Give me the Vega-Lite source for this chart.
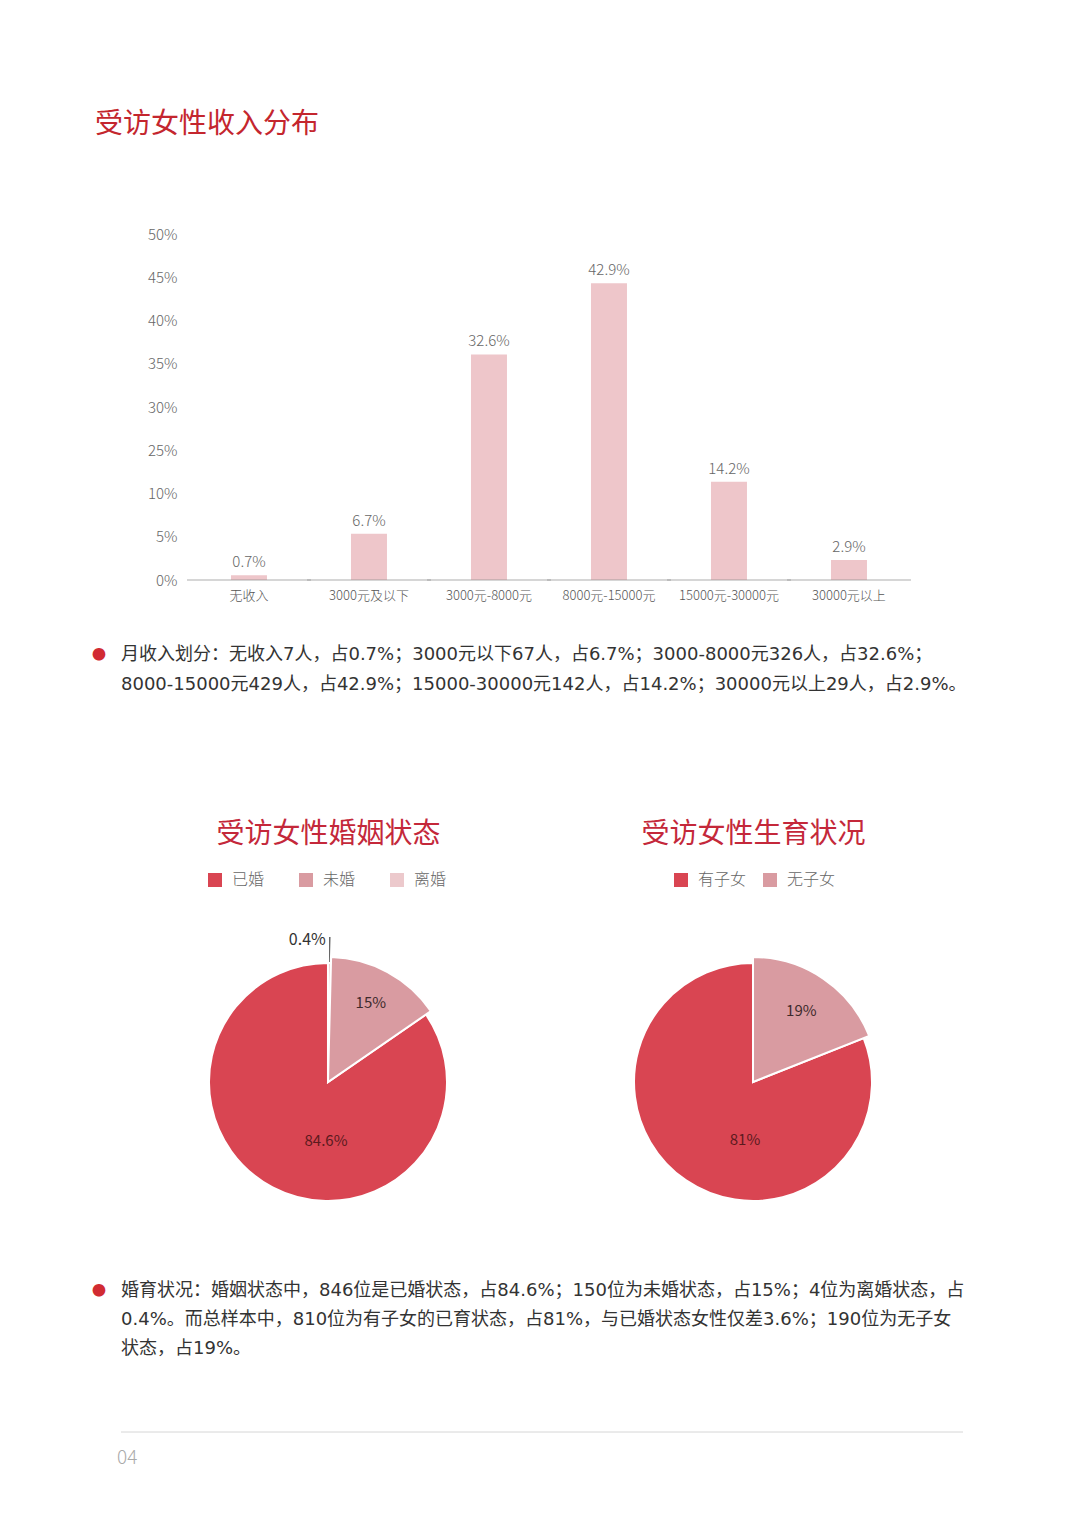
{
  "$schema": "https://vega.github.io/schema/vega-lite/v6.json",
  "background": "#ffffff",
  "padding": {"left": 92, "top": 111, "right": 20, "bottom": 20},
  "spacing": 0,
  "config": {
    "view": {"stroke": null},
    "font": "Noto Sans CJK SC",
    "text": {"font": "Noto Sans CJK SC"},
    "axis": {"labelFont": "Noto Sans CJK SC"},
    "legend": {"labelFont": "Noto Sans CJK SC"},
    "title": {"font": "Noto Sans CJK SC", "fontWeight": "normal"}
  },
  "vconcat": [
    {
      "width": 813,
      "height": 346,
      "title": {"text": "受访女性收入分布", "anchor": "start", "frame": "group", "dx": -26, "offset": 88, "fontSize": 28, "fontWeight": "normal", "color": "#C4262E"},
      "data": {"values": [
        {"income": "无收入", "share": 0.007},
        {"income": "3000元及以下", "share": 0.067},
        {"income": "3000元-8000元", "share": 0.326},
        {"income": "8000元-15000元", "share": 0.429},
        {"income": "15000元-30000元", "share": 0.142},
        {"income": "30000元以上", "share": 0.029}
      ]},
      "encoding": {
        "x": {"field": "income", "type": "nominal", "sort": null,
              "scale": {"paddingInner": 0, "paddingOuter": 0.3875, "align": 0.731},
              "axis": {"title": null, "domain": false, "ticks": false, "labelAngle": 0, "labelFontSize": 13, "labelColor": "#555555", "labelPadding": 9, "labelFontWeight": 300}},
        "y": {"field": "share", "type": "quantitative",
              "scale": {"domain": [0, 0.5]},
              "axis": {"values": [0, 0.0625, 0.125, 0.1875, 0.25, 0.3125, 0.375, 0.4375, 0.5],
                       "labelExpr": "['0%','5%','10%','25%','30%','35%','40%','45%','50%'][round(datum.value*16)]",
                       "title": null, "domain": false, "ticks": false, "grid": false, "offset": -64,
                       "labelPadding": 8, "labelFontSize": 15, "labelColor": "#666666", "labelFontWeight": 300}}
      },
      "layer": [
        {"mark": {"type": "bar", "width": {"band": 0.3}, "color": "#EEC6CA"}},
        {"mark": {"type": "tick", "size": 124, "thickness": 1, "color": "#8C8C8C"}, "encoding": {"y": {"datum": 0, "type": "quantitative"}}},
        {"mark": {"type": "text", "dy": -13, "fontSize": 15, "fontWeight": 300, "color": "#666666"},
         "encoding": {"text": {"field": "share", "type": "quantitative", "format": ".1~%"}}}
      ]
    },
    {"width": 842, "height": 38, "data": {"values": []}, "mark": "point", "encoding": {}},
    {
      "width": 842,
      "height": 60,
      "data": {"values": [
        {"line": 1, "text": "月收入划分：无收入7人，占0.7%；3000元以下67人，占6.7%；3000-8000元326人，占32.6%；"},
        {"line": 2, "text": "8000-15000元429人，占42.9%；15000-30000元142人，占14.2%；30000元以上29人，占2.9%。"}
      ]},
      "encoding": {
        "y": {"field": "line", "type": "ordinal", "axis": null, "scale": {"type": "band", "paddingInner": 0, "paddingOuter": 0}},
        "x": {"datum": 0, "type": "quantitative", "scale": {"domain": [0, 1]}, "axis": null}
      },
      "layer": [
        {"mark": {"type": "text", "align": "left", "baseline": "middle", "font": "DejaVu Sans, Noto Sans CJK SC", "fontSize": 18, "color": "#333333"}, "encoding": {"text": {"field": "text"}}},
        {"transform": [{"filter": "datum.line == 1"}], "mark": {"type": "text", "align": "center", "baseline": "middle", "fontSize": 14, "dx": -22, "color": "#D12B32", "text": "●"}}
      ]
    },
    {"width": 842, "height": 120, "data": {"values": []}, "mark": "point", "encoding": {}},
    {
      "width": 839,
      "height": 240,
      "data": {"values": [
        {"chart": "受访女性婚姻状态", "status": "已婚", "share": 0.846},
        {"chart": "受访女性婚姻状态", "status": "未婚", "share": 0.15},
        {"chart": "受访女性婚姻状态", "status": "离婚", "share": 0.004},
        {"chart": "受访女性生育状况", "status": "有子女", "share": 0.81},
        {"chart": "受访女性生育状况", "status": "无子女", "share": 0.19}
      ]},
      "encoding": {
        "x": {"field": "chart", "type": "nominal", "sort": null,
              "scale": {"type": "point", "padding": 0.487},
              "axis": {"orient": "top", "title": null, "domain": false, "ticks": false, "labelAngle": 0, "labelFontSize": 28, "labelColor": "#C4283A", "labelPadding": 128, "labelBaseline": "middle", "labelLimit": 0}},
        "theta": {"field": "share", "type": "quantitative", "stack": true, "scale": {"domain": [0, 1]}},
        "order": {"field": "share", "sort": "ascending"}
      },
      "layer": [
        {"transform": [{"filter": "datum.chart == '受访女性婚姻状态'"}],
         "mark": {"type": "arc", "outerRadius": 119, "stroke": "#ffffff", "strokeWidth": 2},
         "encoding": {
           "color": {"field": "status", "type": "nominal", "scale": {"domain": ["已婚", "未婚", "离婚"], "range": ["#D94552", "#D99BA1", "#ECC9CC"]},
                     "legend": {"title": null, "orient": "none", "legendX": 86, "legendY": 638, "direction": "horizontal", "symbolType": "square", "symbolSize": 196, "symbolStrokeWidth": 0, "labelFontSize": 16, "labelColor": "#666666", "labelFontWeight": 300, "labelOffset": 9, "columnPadding": 33}},
           "opacity": {"condition": {"test": "datum.status == '未婚'", "value": 0}, "value": 1}
         }},
        {"transform": [{"filter": "datum.chart == '受访女性婚姻状态'"}],
         "mark": {"type": "arc", "outerRadius": 125, "stroke": "#ffffff", "strokeWidth": 2},
         "encoding": {
           "color": {"field": "status", "type": "nominal", "scale": {"domain": ["已婚", "未婚", "离婚"], "range": ["#D94552", "#D99BA1", "#ECC9CC"]},
                     "legend": {"title": null, "orient": "none", "legendX": 86, "legendY": 638, "direction": "horizontal", "symbolType": "square", "symbolSize": 196, "symbolStrokeWidth": 0, "labelFontSize": 16, "labelColor": "#666666", "labelFontWeight": 300, "labelOffset": 9, "columnPadding": 33}},
           "opacity": {"condition": {"test": "datum.status == '未婚'", "value": 1}, "value": 0}
         }},
        {"transform": [{"filter": "datum.chart == '受访女性婚姻状态'"}],
         "mark": {"type": "arc", "innerRadius": 120, "outerRadius": 145, "padAngle": 0.012, "color": "#555555"},
         "encoding": {
           "detail": {"field": "status"},
           "opacity": {"condition": {"test": "datum.status == '离婚'", "value": 1}, "value": 0}
         }},
        {"transform": [{"filter": "datum.chart == '受访女性婚姻状态'"}],
         "mark": {"type": "text", "radius": 59, "thetaOffset": -0.45, "fontSize": 15, "color": "#5C1A1E"},
         "encoding": {
           "detail": {"field": "status"},
           "text": {"field": "share", "type": "quantitative", "format": ".1~%"},
           "opacity": {"condition": {"test": "datum.status == '已婚'", "value": 1}, "value": 0}
         }},
        {"transform": [{"filter": "datum.chart == '受访女性婚姻状态'"}],
         "mark": {"type": "text", "radius": 90, "fontSize": 15, "color": "#3E2A2C"},
         "encoding": {
           "detail": {"field": "status"},
           "text": {"field": "share", "type": "quantitative", "format": ".1~%"},
           "opacity": {"condition": {"test": "datum.status == '未婚'", "value": 1}, "value": 0}
         }},
        {"transform": [{"filter": "datum.chart == '受访女性婚姻状态'"}],
         "mark": {"type": "text", "radius": 142, "align": "right", "baseline": "middle", "dx": -4, "fontSize": 16, "color": "#333333"},
         "encoding": {
           "detail": {"field": "status"},
           "text": {"field": "share", "type": "quantitative", "format": ".1~%"},
           "opacity": {"condition": {"test": "datum.status == '离婚'", "value": 1}, "value": 0}
         }},
        {"transform": [{"filter": "datum.chart == '受访女性生育状况'"}],
         "mark": {"type": "arc", "outerRadius": 119, "stroke": "#ffffff", "strokeWidth": 2},
         "encoding": {
           "fill": {"field": "status", "type": "nominal", "scale": {"domain": ["有子女", "无子女"], "range": ["#D94552", "#D99BA1"]},
                    "legend": {"title": null, "orient": "none", "legendX": 552, "legendY": 638, "direction": "horizontal", "symbolType": "square", "symbolSize": 196, "symbolStrokeWidth": 0, "labelFontSize": 16, "labelColor": "#666666", "labelFontWeight": 300, "labelOffset": 9, "columnPadding": 15}},
           "opacity": {"condition": {"test": "datum.status == '无子女'", "value": 0}, "value": 1}
         }},
        {"transform": [{"filter": "datum.chart == '受访女性生育状况'"}],
         "mark": {"type": "arc", "outerRadius": 125, "stroke": "#ffffff", "strokeWidth": 2},
         "encoding": {
           "fill": {"field": "status", "type": "nominal", "scale": {"domain": ["有子女", "无子女"], "range": ["#D94552", "#D99BA1"]},
                    "legend": {"title": null, "orient": "none", "legendX": 552, "legendY": 638, "direction": "horizontal", "symbolType": "square", "symbolSize": 196, "symbolStrokeWidth": 0, "labelFontSize": 16, "labelColor": "#666666", "labelFontWeight": 300, "labelOffset": 9, "columnPadding": 15}},
           "opacity": {"condition": {"test": "datum.status == '无子女'", "value": 1}, "value": 0}
         }},
        {"transform": [{"filter": "datum.chart == '受访女性生育状况'"}],
         "mark": {"type": "text", "radius": 59, "thetaOffset": -0.46, "fontSize": 15, "color": "#5C1A1E"},
         "encoding": {
           "detail": {"field": "status"},
           "text": {"field": "share", "type": "quantitative", "format": ".1~%"},
           "opacity": {"condition": {"test": "datum.status == '有子女'", "value": 1}, "value": 0}
         }},
        {"transform": [{"filter": "datum.chart == '受访女性生育状况'"}],
         "mark": {"type": "text", "radius": 86, "fontSize": 15, "color": "#3E2A2C"},
         "encoding": {
           "detail": {"field": "status"},
           "text": {"field": "share", "type": "quantitative", "format": ".1~%"},
           "opacity": {"condition": {"test": "datum.status == '无子女'", "value": 1}, "value": 0}
         }}
      ]
    },
    {"width": 842, "height": 50, "data": {"values": []}, "mark": "point", "encoding": {}},
    {
      "width": 842,
      "height": 86,
      "data": {"values": [
        {"line": 1, "text": "婚育状况：婚姻状态中，846位是已婚状态，占84.6%；150位为未婚状态，占15%；4位为离婚状态，占"},
        {"line": 2, "text": "0.4%。而总样本中，810位为有子女的已育状态，占81%，与已婚状态女性仅差3.6%；190位为无子女"},
        {"line": 3, "text": "状态，占19%。"}
      ]},
      "encoding": {
        "y": {"field": "line", "type": "ordinal", "axis": null, "scale": {"type": "band", "paddingInner": 0, "paddingOuter": 0}},
        "x": {"datum": 0, "type": "quantitative", "scale": {"domain": [0, 1]}, "axis": null}
      },
      "layer": [
        {"mark": {"type": "text", "align": "left", "baseline": "middle", "font": "DejaVu Sans, Noto Sans CJK SC", "fontSize": 18, "color": "#333333"}, "encoding": {"text": {"field": "text"}}},
        {"transform": [{"filter": "datum.line == 1"}], "mark": {"type": "text", "align": "center", "baseline": "middle", "fontSize": 14, "dx": -22, "color": "#D12B32", "text": "●"}}
      ]
    },
    {"width": 842, "height": 68, "data": {"values": []}, "mark": "point", "encoding": {}},
    {
      "width": 842,
      "height": 1,
      "data": {"values": [{"page": "04"}]},
      "mark": {"type": "rule", "color": "#D6D6D6", "strokeWidth": 1},
      "encoding": {"y": {"datum": 0, "type": "quantitative", "scale": {"domain": [0, 1]}, "axis": null}},
      "title": {"text": "04", "orient": "bottom", "anchor": "start", "frame": "group", "dx": -4, "offset": 16, "fontSize": 19, "fontWeight": 300, "color": "#AAAAAA"}
    }
  ]
}
